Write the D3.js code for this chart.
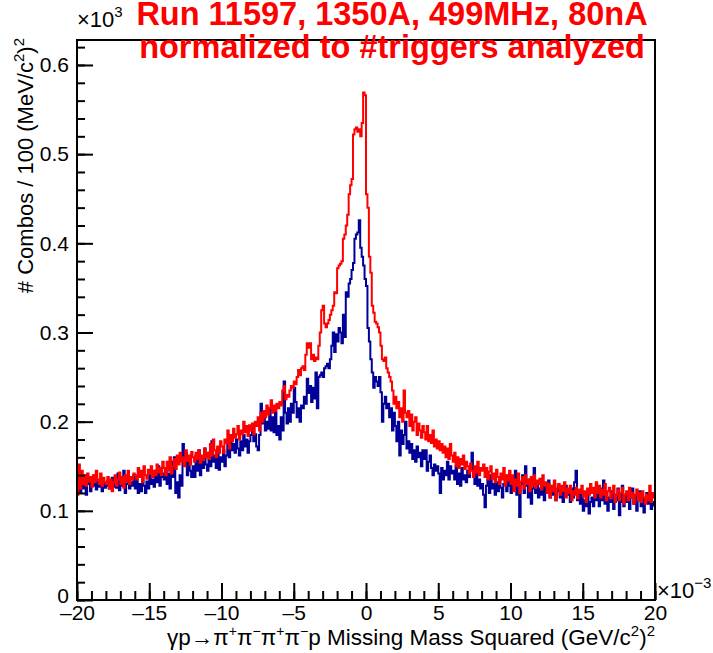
<!DOCTYPE html>
<html>
<head>
<meta charset="utf-8">
<script src="https://cdn.jsdelivr.net/npm/d3@7"></script>
<style>
  body { margin: 0; background: #fff; }
  text { font-family: "Liberation Sans", Arial, Helvetica, sans-serif; }
</style>
</head>
<body>
<svg id="chart" width="713" height="653"></svg>
<script>
// histogram binning, x in units of 1e-3 (GeV/c^2)^2
const xLow = -20;
const xHigh = 20;
const binWidth = 0.1;

// bin contents (combos), one row per 2 units of x
const redCounts = [
  118,152,125,145,130,140,128,142,133,138,127,140,132,145,135,130,142,128,137,132,
  130,138,125,135,122,132,140,128,135,143,130,138,126,140,133,145,130,138,135,142,
  140,135,148,138,145,132,150,140,136,146,142,150,138,145,140,152,143,148,140,155,
  148,140,155,145,160,142,150,158,147,162,152,165,155,160,150,168,156,162,152,166,
  160,155,165,158,168,154,162,157,170,160,165,158,175,162,180,168,160,172,165,178,
  172,165,180,176,190,170,185,178,192,182,186,195,180,190,186,200,188,195,184,196,
  190,198,186,200,195,205,190,210,200,212,205,218,208,215,224,210,218,212,220,215,
  222,218,235,240,225,230,228,235,240,238,245,242,250,258,252,260,262,258,275,288,
  283,288,270,275,268,272,270,285,300,325,330,310,306,310,314,320,325,330,345,344,
  372,375,377,380,405,410,420,432,455,465,472,522,528,530,525,528,520,535,569,566,
  455,440,385,367,330,322,312,310,306,300,285,270,268,272,260,255,250,245,235,220,
  228,215,222,205,215,200,235,210,205,212,195,208,190,200,205,185,198,190,182,195,
  188,180,195,178,185,176,190,172,180,170,178,168,175,165,172,160,170,158,175,162,
  155,165,150,160,148,158,152,162,147,155,150,142,153,145,138,150,143,155,140,148,
  145,152,138,148,135,144,150,136,142,132,146,138,130,142,135,148,128,140,134,145,
  130,140,122,135,128,142,120,133,138,125,140,130,135,122,138,128,140,126,134,130,
  136,124,140,128,132,120,130,115,128,122,134,112,125,130,118,128,122,132,115,125,
  120,128,112,122,118,126,114,124,120,128,116,122,110,125,118,130,120,126,115,132,
  120,128,115,124,118,130,112,122,126,114,120,128,110,118,124,112,120,126,108,118,
  122,112,126,115,120,108,118,124,112,120,110,122,115,108,118,112,128,110,120,115
];

const blueCounts = [
  130,142,120,138,125,140,118,130,136,122,132,128,140,124,133,127,135,122,130,126,
  128,134,125,130,137,127,132,126,142,123,135,128,145,120,130,138,125,132,128,140,
  125,135,120,130,122,138,128,120,133,125,140,130,135,127,145,132,150,128,138,142,
  135,148,130,142,125,155,138,160,120,132,115,140,128,175,152,165,140,158,145,138,
  150,138,162,145,168,140,155,148,170,152,145,165,150,178,155,162,148,170,146,160,
  155,168,150,162,175,160,182,168,175,165,180,170,162,178,168,185,172,180,165,178,
  185,190,178,186,172,168,185,220,198,205,190,200,192,215,190,205,188,210,185,195,
  180,205,190,245,210,198,215,200,220,210,238,222,205,215,200,218,215,228,220,248,
  232,240,222,238,226,255,215,250,252,255,250,260,262,265,260,270,285,300,278,298,
  290,305,300,288,320,295,345,340,355,360,370,378,405,410,412,426,395,385,375,360,
  352,305,290,270,255,238,250,245,240,250,233,200,220,228,215,220,205,215,190,210,
  195,178,200,162,190,175,185,200,170,178,165,175,158,168,155,172,160,165,150,168,
  158,168,145,155,162,148,140,152,145,150,142,120,148,135,145,140,155,135,150,142,
  145,135,150,130,142,128,148,135,140,132,145,138,150,165,140,130,142,128,135,125,
  130,118,104,128,135,120,140,125,130,118,132,122,138,126,115,130,135,122,140,128,
  120,135,125,145,118,128,93,130,140,120,150,128,115,135,108,125,148,120,130,115,
  125,118,130,112,128,120,134,115,125,118,130,112,122,128,115,125,110,122,128,118,
  120,110,125,115,132,145,112,120,108,118,100,112,105,118,97,110,115,105,120,112,
  118,105,125,112,134,108,120,100,115,110,122,102,118,112,125,95,110,128,105,118,
  110,120,102,115,125,108,118,100,112,122,105,115,98,110,120,108,115,102,110,106
];

const xTicks = [-20, -15, -10, -5, 0, 5, 10, 15, 20];
const xMinorTicks = d3.range(-20, 20.5, 1);
const yTicks = [0, 100, 200, 300, 400, 500, 600];
const yMinorTicks = d3.range(0, 628, 20);
const yMax = 628;

const titleLines = ["Run 11597, 1350A, 499MHz, 80nA", "normalized to #triggers analyzed"];

const margin = { top: 40, right: 58, bottom: 53, left: 77 };
const width = 713 - margin.left - margin.right;
const height = 653 - margin.top - margin.bottom;

const svg = d3.select("#chart");

const x = d3.scaleLinear().domain([xLow, xHigh]).range([0, width]);
const y = d3.scaleLinear().domain([0, yMax]).range([height, 0]);

const g = svg.append("g").attr("transform", `translate(${margin.left},${margin.top})`);

g.append("clipPath").attr("id", "frameClip")
  .append("rect").attr("width", width).attr("height", height);

// step histograms
function histPoints(counts) {
  const pts = counts.map((c, i) => [xLow + i * binWidth, c]);
  pts.push([xLow + counts.length * binWidth, counts[counts.length - 1]]);
  return pts;
}
const step = d3.line()
  .x(d => x(d[0]))
  .y(d => y(d[1]))
  .curve(d3.curveStepAfter);

const series = [
  { counts: redCounts, color: "#ff0000" },
  { counts: blueCounts, color: "#000099" }
];
// red sits on top of blue
g.append("g").attr("clip-path", "url(#frameClip)")
  .selectAll("path")
  .data([series[1], series[0]])
  .join("path")
    .attr("d", d => step(histPoints(d.counts)))
    .attr("fill", "none")
    .attr("stroke", d => d.color)
    .attr("stroke-width", 2)
    .attr("stroke-linejoin", "miter");

// axes, ROOT style ticks pointing inside the frame
const fmtY = d => d === 0 ? "0" : (d / 1000).toFixed(1);
const fmtX = d => d < 0 ? "\u2013" + Math.abs(d) : String(d);

g.append("g")
  .call(d3.axisLeft(y).tickValues(yTicks).tickSize(-16).tickPadding(8).tickFormat(fmtY));
g.append("g")
  .call(d3.axisLeft(y).tickValues(yMinorTicks).tickSize(-8).tickFormat(""));

g.append("g")
  .attr("transform", `translate(0,${height})`)
  .call(d3.axisBottom(x).tickValues(xTicks).tickSize(-17).tickPadding(5).tickFormat(fmtX));
g.append("g")
  .attr("transform", `translate(0,${height})`)
  .call(d3.axisBottom(x).tickValues(xMinorTicks).tickSize(-9).tickFormat(""));

g.selectAll(".domain").remove();
g.selectAll(".tick line").attr("stroke", "#000").attr("stroke-width", 2);
g.selectAll(".tick text").attr("font-size", 21).attr("fill", "#000")
  .style("font-family", '"Liberation Sans", Arial, sans-serif');
// ROOT lifts the bottom "0" a little above the x labels
g.selectAll(".tick text").filter(function(d) { return d === 0 && this.getAttribute("x") !== null && +this.getAttribute("x") < 0; })
  .attr("dy", "0.1em");

// frame
g.append("rect")
  .attr("width", width).attr("height", height)
  .attr("fill", "none").attr("stroke", "#000").attr("stroke-width", 2);

// exponent labels
const e3 = svg.append("text").attr("x", 77).attr("y", 27).attr("font-size", 22);
e3.append("tspan").text("\u00d710");
e3.append("tspan").attr("font-size", 15).attr("dy", -10).text("3");

const em3 = svg.append("text").attr("x", 657).attr("y", 598).attr("font-size", 22);
em3.append("tspan").text("\u00d710");
em3.append("tspan").attr("font-size", 15).attr("dy", -10).text("\u22123");

// axis titles
const xt = svg.append("text")
  .attr("x", margin.left + width).attr("y", 645)
  .attr("text-anchor", "end").attr("font-size", 22.5);
xt.append("tspan").text("\u03b3p\u2192\u03c0");
xt.append("tspan").attr("font-size", 14).attr("dy", -9).text("+");
xt.append("tspan").attr("dy", 9).text("\u03c0");
xt.append("tspan").attr("font-size", 14).attr("dy", -9).text("\u2212");
xt.append("tspan").attr("dy", 9).text("\u03c0");
xt.append("tspan").attr("font-size", 14).attr("dy", -9).text("+");
xt.append("tspan").attr("dy", 9).text("\u03c0");
xt.append("tspan").attr("font-size", 14).attr("dy", -9).text("\u2212");
xt.append("tspan").attr("dy", 9).text("p Missing Mass Squared (GeV/c");
xt.append("tspan").attr("font-size", 15).attr("dy", -9).text("2");
xt.append("tspan").attr("dy", 9).text(")");
xt.append("tspan").attr("font-size", 15).attr("dy", -9).text("2");

const yt = svg.append("text")
  .attr("transform", "translate(33,38) rotate(-90)")
  .attr("text-anchor", "end").attr("font-size", 22);
yt.append("tspan").text("# Combos / 100 (MeV/c");
yt.append("tspan").attr("font-size", 15).attr("dy", -9).text("2");
yt.append("tspan").attr("dy", 9).text(")");
yt.append("tspan").attr("font-size", 15).attr("dy", -9).text("2");

// title
svg.selectAll("text.title")
  .data(titleLines)
  .join("text")
    .attr("class", "title")
    .attr("x", 392)
    .attr("y", (d, i) => 25 + i * 33)
    .attr("text-anchor", "middle")
    .attr("font-size", 32.5)
    .attr("font-weight", "bold")
    .attr("fill", "#ff0000")
    .text(d => d);
</script>
</body>
</html>
